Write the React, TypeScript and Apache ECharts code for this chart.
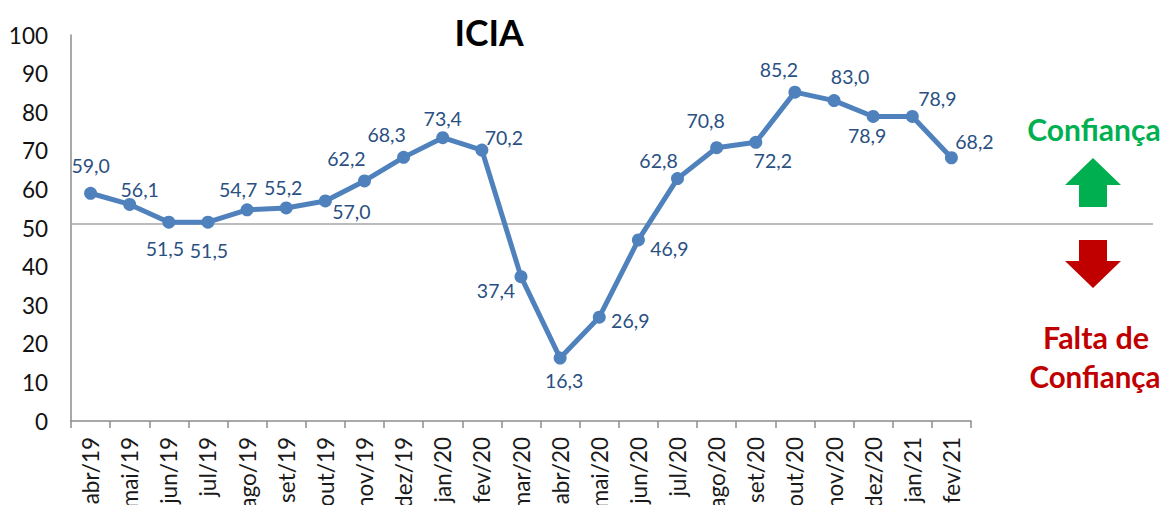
import React, { useEffect, useRef } from "react";
import * as echarts from "echarts";

const categories = ["abr/19","mai/19","jun/19","jul/19","ago/19","set/19","out/19","nov/19","dez/19","jan/20","fev/20","mar/20","abr/20","mai/20","jun/20","jul/20","ago/20","set/20","out/20","nov/20","dez/20","jan/21","fev/21"];
const values = [59.0,56.1,51.5,51.5,54.7,55.2,57.0,62.2,68.3,73.4,70.2,37.4,16.3,26.9,46.9,62.8,70.8,72.2,85.2,83.0,78.9,78.9,68.2];
const labelOffsets: [number, number][] = [
  [0,-28],[10,-15],[-4,26],[1,28],[-9,-20],[-3,-20],[26,11],[-18,-22],[-17,-23],[0,-19],[22,-13],
  [-25,14],[4,22],[31,3],[31,9],[-19,-18],[-11,-27],[17,18],[-16,-23],[16,-24],[-6,19],[25,-18],[23,-16],
];

export default function App() {
  const ref = useRef<HTMLDivElement>(null);
  useEffect(() => {
    const chart = echarts.init(ref.current!, undefined, { renderer: "svg" });
    const font = "Lato";
    chart.setOption({
      animation: false,
      backgroundColor: "#ffffff",
      grid: { left: 71, right: 190, top: 35, bottom: 84, containLabel: false, outerBoundsMode: "none" },
      xAxis: {
        type: "category",
        data: categories,
        boundaryGap: true,
        axisLine: { lineStyle: { color: "#8c8c8c", width: 1.5 } },
        axisTick: { show: true, alignWithLabel: false, length: 7, lineStyle: { color: "#8c8c8c", width: 1.5 } },
        axisLabel: { rotate: 90, interval: 0, margin: 16, fontSize: 22.5, color: "#1a1a1a", fontFamily: font },
      },
      yAxis: {
        type: "value",
        min: 0,
        max: 100,
        interval: 10,
        splitLine: { show: false },
        axisLine: { show: true, lineStyle: { color: "#8c8c8c", width: 1.5 } },
        axisTick: { show: false },
        axisLabel: { margin: 23, fontSize: 22.5, color: "#111111", fontFamily: font },
      },
      series: [{
        type: "line",
        data: values.map((v, i) => ({
          value: v,
          label: { offset: labelOffsets[i] },
        })),
        symbol: "circle",
        symbolSize: 13,
        lineStyle: { color: "#4f81bd", width: 5 },
        itemStyle: { color: "#4f81bd" },
        label: {
          show: true,
          position: "inside",
          fontSize: 19.5,
          fontFamily: font,
          color: "#2a5082",
          formatter: (p: any) => Number(p.value).toFixed(1).replace(".", ","),
        },
      }],
      graphic: [
        { type: "line", shape: { x1: 71, y1: 224, x2: 1153, y2: 224 }, style: { stroke: "#a6a6a6", lineWidth: 1.5 }, z: 1 },
        { type: "text", style: { text: "ICIA", x: 489, y: 32, align: "center", verticalAlign: "middle", font: `bold 35.5px ${font}`, fill: "#000000" } },
        { type: "text", style: { text: "Confiança", x: 1094, y: 129, align: "center", verticalAlign: "middle", font: `bold 30px ${font}`, fill: "#00b050" } },
        { type: "polygon", shape: { points: [[1093,158],[1121,185],[1107,185],[1107,207],[1079,207],[1079,185],[1065,185]] }, style: { fill: "#00b050" } },
        { type: "polygon", shape: { points: [[1093,288],[1121,261],[1107,261],[1107,240],[1079,240],[1079,261],[1065,261]] }, style: { fill: "#c00000" } },
        { type: "text", style: { text: "Falta de", x: 1096, y: 337, align: "center", verticalAlign: "middle", font: `bold 30.5px ${font}`, fill: "#c00000" } },
        { type: "text", style: { text: "Confiança", x: 1095, y: 376, align: "center", verticalAlign: "middle", font: `bold 29.5px ${font}`, fill: "#c00000" } },
      ],
    });
    return () => chart.dispose();
  }, []);
  return <div ref={ref} style={{ position: "absolute", left: 0, top: 0, width: 1161, height: 505 }} />;
}
